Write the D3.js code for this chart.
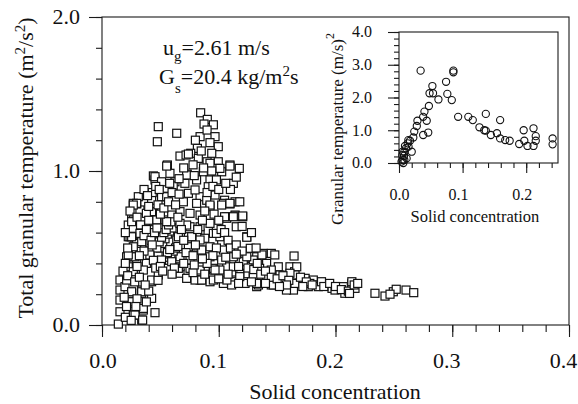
<!DOCTYPE html>
<html><head><meta charset="utf-8">
<script src="https://cdn.jsdelivr.net/npm/d3@7"></script>
<style>
body{margin:0;background:#fff}
svg{display:block}
text{font-family:"Liberation Serif","Times New Roman",serif;fill:#111}
</style>
</head><body>
<svg id="c" width="578" height="404"></svg>
<script>
// ---------- DATA ----------
const mainXTicks = [0, 0.1, 0.2, 0.3, 0.4];
const mainXLabels = ["0.0", "0.1", "0.2", "0.3", "0.4"];
const mainYTicks = [0, 1, 2];
const mainYLabels = ["0.0", "1.0", "2.0"];
const insetXTicks = [0, 0.1, 0.2];
const insetXLabels = ["0.0", "0.1", "0.2"];
const insetYTicks = [0, 1, 2, 3, 4];
const insetYLabels = ["0.0", "1.0", "2.0", "3.0", "4.0"];

// total granular temperature vs solid concentration (squares)
const mainPoints = [
[0.0845,1.378],[0.0902,1.335],[0.0874,1.305],[0.0954,1.30],[0.0482,1.288],[0.064,1.245],[0.0474,1.19],[0.084,1.223],
[0.090,1.266],[0.0968,1.223],[0.0925,1.184],[0.0996,1.158],[0.0817,1.147],[0.0668,1.097],[0.072,1.104],[0.076,1.115],
[0.094,1.115],[0.090,1.06],[0.0996,1.06],[0.1096,1.039],[0.1176,1.017],[0.056,1.039],[0.0582,0.985],[0.044,0.968],
[0.0454,0.942],[0.073,0.98],[0.0868,0.995],[0.098,1.017],[0.1025,0.995],[0.0311,0.833],[0.0268,0.79],[0.0325,0.747],
[0.0254,0.693],[0.0225,0.649],[0.0268,0.628],[0.0225,0.573],[0.0283,0.534],[0.0211,0.443],[0.0268,0.443],[0.0425,0.81],
[0.044,0.725],[0.051,0.833],[0.0554,0.888],[0.0625,0.93],[0.071,0.92],[0.081,0.942],[0.0925,0.942],[0.074,0.855],
[0.084,0.833],[0.0897,0.81],[0.0968,0.844],[0.105,0.81],[0.114,0.80],[0.1068,0.703],[0.1205,0.703],[0.115,0.638],
[0.124,0.573],[0.0925,0.768],[0.084,0.714],[0.0754,0.725],[0.0668,0.736],[0.061,0.682],[0.054,0.682],[0.0754,0.638],
[0.084,0.595],[0.0954,0.595],[0.1025,0.53],[0.0925,0.508],[0.084,0.487],[0.074,0.573],[0.064,0.552],[0.0554,0.487],
[0.0497,0.465],[0.041,0.487],[0.0668,0.443],[0.0754,0.422],[0.084,0.378],[0.0954,0.357],[0.1068,0.378],[0.118,0.422],
[0.1125,0.292],[0.104,0.281],[0.084,0.292],[0.0754,0.303],[0.0668,0.336],[0.1225,0.281],[0.0425,0.281],[0.0154,0.292],
[0.0154,0.227],[0.0154,0.162],[0.0254,0.206],[0.0254,0.141],[0.034,0.206],[0.0354,0.097],[0.0268,0.065],[0.0154,0.086],
[0.014,0.006],[0.034,0.032],[0.0454,0.08],[0.0425,0.173],[0.0197,0.249],
[0.074,1.11],[0.0825,1.082],[0.0925,1.05],[0.101,1.017],[0.1096,1.032],[0.0554,1.032],[0.0454,0.963],[0.051,0.93],
[0.061,0.903],[0.0725,0.974],[0.098,0.942],[0.0797,0.877],[0.091,0.898],[0.1125,0.92],[0.118,0.80],[0.0297,0.786],
[0.0554,0.833],[0.0697,0.80],[0.081,0.79],[0.0925,0.779],[0.104,0.79],[0.0268,0.682],[0.0425,0.736],[0.044,0.671],
[0.0597,0.714],[0.0725,0.649],[0.084,0.638],[0.098,0.638],[0.1068,0.693],[0.114,0.714],[0.024,0.573],[0.0325,0.595],
[0.0297,0.53],[0.0297,0.422],[0.038,0.40],[0.0654,0.573],[0.0768,0.573],[0.088,0.563],[0.101,0.573],[0.0754,0.498],
[0.0854,0.487],[0.0925,0.443],[0.104,0.487],[0.1125,0.443],[0.1225,0.433],[0.1325,0.443],[0.138,0.465],[0.0668,0.378],
[0.0754,0.368],[0.084,0.357],[0.0954,0.368],[0.118,0.336],[0.1296,0.325],[0.141,0.314],[0.0725,0.303],[0.0925,0.281],
[0.104,0.27],[0.1125,0.281],[0.1225,0.27],[0.1325,0.249],[0.034,0.227],
[0.046,0.44],[0.048,0.47],[0.05,0.5],[0.052,0.53],[0.054,0.56],[0.056,0.59],[0.058,0.61],[0.06,0.63],
[0.047,0.5],[0.049,0.54],[0.051,0.57],[0.053,0.6],[0.055,0.62],[0.057,0.65],[0.059,0.67],
[0.055,0.42],[0.057,0.44],[0.059,0.46],[0.061,0.48],[0.063,0.50],[0.065,0.51],[0.056,0.47],[0.058,0.49],
[0.1096,0.786],[0.1025,0.779],[0.114,0.708],[0.1205,0.708],[0.105,0.703],[0.124,0.57],[0.127,0.498],[0.137,0.455],
[0.145,0.465],[0.148,0.455],[0.1645,0.448],[0.141,0.40],[0.151,0.378],[0.161,0.378],[0.165,0.346],[0.174,0.303],
[0.181,0.292],[0.185,0.26],[0.197,0.238],[0.1996,0.227],[0.208,0.206],[0.2067,0.249],[0.2139,0.27],[0.2167,0.238],
[0.2338,0.206],[0.1767,0.249],[0.164,0.227],[0.158,0.227],[0.145,0.26],[0.134,0.26],[0.111,0.26],[0.1525,0.325],
[0.1296,0.314],[0.118,0.314],[0.107,0.292],[0.0954,0.292],[0.155,0.281],[0.1696,0.27],[0.1296,0.422],[0.121,0.411],
[0.1125,0.378],[0.101,0.357],[0.135,0.368],[0.145,0.357],
[0.1668,0.378],[0.1653,0.325],[0.1653,0.27],[0.178,0.27],[0.1853,0.249],[0.188,0.281],[0.214,0.281],[0.2424,0.188],
[0.2495,0.216],[0.252,0.232],[0.2604,0.227],[0.267,0.21],[0.2467,0.20],
[0.0254,0.216],[0.0254,0.151],[0.0283,0.065],[0.0348,0.032],[0.0354,0.108],[0.034,0.216],[0.0225,0.378],[0.0268,0.346],
[0.0354,0.357],[0.0425,0.292],[0.0482,0.325],[0.0283,0.443],[0.0225,0.455],[0.034,0.541],[0.0268,0.508],[0.0254,0.573],
[0.041,0.595],[0.041,0.455],[0.051,0.422],[0.0597,0.411],[0.0654,0.368],[0.0797,0.292],[0.074,0.508],[0.084,0.552],
[0.0925,0.66],[0.098,0.595],[0.1025,0.422],[0.0968,0.357],[0.0668,0.66],[0.0554,0.671],[0.0468,0.682],[0.038,0.725],
[0.0297,0.79],
[0.0268,0.779],[0.0254,0.671],[0.0211,0.292],[0.0854,0.292],[0.1125,0.703],[0.1096,0.79],[0.161,0.336],[0.124,0.443],
[0.1325,0.27],[0.1467,0.26],
[0.018,0.35],[0.02,0.40],[0.022,0.50],[0.02,0.60],[0.024,0.74],[0.03,0.70],[0.033,0.65],[0.036,0.48],
[0.032,0.45],[0.03,0.38],[0.022,0.32],[0.028,0.28],[0.032,0.31],[0.019,0.18],[0.021,0.12],[0.03,0.17],
[0.029,0.12],[0.038,0.15],[0.04,0.22],[0.037,0.26],[0.02,0.05],[0.025,0.03],
[0.036,0.58],[0.038,0.62],[0.04,0.68],[0.042,0.55],[0.045,0.60],[0.047,0.63],[0.043,0.52],[0.04,0.77],
[0.043,0.86],[0.046,0.9],[0.048,0.78],[0.05,0.72],[0.049,0.88],[0.036,0.88],[0.039,0.84],[0.044,0.42],
[0.046,0.37],[0.05,0.38],[0.052,0.35],[0.048,0.29],
[0.053,0.76],[0.057,0.8],[0.06,0.86],[0.063,0.78],[0.065,0.7],[0.068,0.62],[0.07,0.55],[0.072,0.47],
[0.078,0.45],[0.08,0.52],[0.082,0.62],[0.086,0.68],[0.088,0.74],[0.09,0.86],[0.095,0.9],[0.1,0.88],
[0.096,0.72],[0.1,0.68],[0.102,0.62],[0.098,0.5],[0.095,0.45],[0.09,0.4],[0.088,0.33],[0.078,0.34],
[0.07,0.4],[0.062,0.37],[0.06,0.33],[0.079,0.39],[0.086,0.43],[0.066,0.95],[0.058,0.92],[0.07,1.02],
[0.078,1.04],[0.085,1.13],[0.08,1.2],[0.087,1.02],[0.094,1.0],[0.079,0.97],[0.066,0.85],
[0.105,0.6],[0.108,0.55],[0.11,0.5],[0.115,0.52],[0.12,0.48],[0.117,0.38],[0.125,0.37],[0.13,0.36],
[0.136,0.33],[0.14,0.35],[0.145,0.31],[0.15,0.3],[0.155,0.32],[0.16,0.29],[0.158,0.26],[0.152,0.25],
[0.14,0.27],[0.128,0.28],[0.117,0.27],[0.108,0.33],[0.1,0.3],[0.106,0.44],[0.115,0.46],[0.133,0.4],
[0.128,0.6],[0.132,0.5],[0.11,0.88],[0.115,0.96],[0.106,0.92],[0.12,0.64],[0.17,0.31],[0.175,0.28],
[0.172,0.25],[0.18,0.26],[0.19,0.25],[0.195,0.27],[0.2,0.25],[0.205,0.23],[0.211,0.22],[0.216,0.26],
[0.219,0.27],[0.212,0.205]
];

// inset: granular temperature vs solid concentration (circles)
const insetPoints = [
[0.034,2.82],[0.0855,2.82],[0.0855,2.77],[0.074,2.48],[0.0525,2.35],[0.048,2.13],[0.0535,2.13],[0.076,2.11],
[0.062,1.94],[0.083,1.92],[0.047,1.74],[0.040,1.57],[0.038,1.41],[0.0436,1.29],[0.029,1.29],[0.028,1.13],
[0.046,0.93],[0.038,0.855],[0.024,0.96],[0.0225,0.78],[0.0173,0.68],[0.0137,0.60],[0.02,0.345],[0.011,0.45],
[0.0084,0.345],[0.0052,0.24],[0.0084,0.09],[0.004,0.04],[0.012,0.14],[0.015,0.50],[0.0094,0.52],[0.0058,0.35],
[0.0079,0.22],[0.0058,0.09],[0.0068,0.0],[0.0147,0.70],
[0.093,1.41],[0.109,1.41],[0.116,1.31],[0.1365,1.50],[0.1265,1.09],[0.1365,0.99],[0.134,1.0],[0.1444,0.855],
[0.154,0.91],[0.159,1.31],[0.159,0.75],[0.167,0.70],[0.174,0.68],[0.189,0.58],[0.196,1.0],[0.197,0.68],
[0.202,0.52],[0.2115,1.06],[0.2115,0.52],[0.215,0.82],[0.215,0.68],[0.2415,0.75],[0.2415,0.57]
];

// ---------- DRAW ----------
const svg = d3.select("#c");
const ink = "#1a1a1a";
const serif = "Liberation Serif, Times New Roman, serif";

// main scales
const x = d3.scaleLinear().domain([0, 0.4]).range([102, 569]);
const y = d3.scaleLinear().domain([0, 2]).range([325, 17]);

function tickAxis(g, axisFn, scale, values, size) {
  g.call(axisFn(scale).tickValues(values).tickSize(size).tickFormat(""));
  g.select(".domain").remove();
  g.selectAll("line").attr("stroke", ink).attr("stroke-width", 1.1);
}

// frame
svg.append("rect").attr("x", x(0)).attr("y", y(2)).attr("width", x(0.4) - x(0)).attr("height", y(0) - y(2))
  .attr("fill", "none").attr("stroke", ink).attr("stroke-width", 1.1);

const minorX = d3.range(0, 21).map(i => i * 0.02);
const minorY = d3.range(0, 11).map(i => i * 0.2);
tickAxis(svg.append("g").attr("transform", `translate(0,${y(0)})`), d3.axisBottom, x, minorX, 7);
tickAxis(svg.append("g").attr("transform", `translate(0,${y(0)})`), d3.axisBottom, x, mainXTicks, 12);
tickAxis(svg.append("g").attr("transform", `translate(${x(0)},0)`), d3.axisLeft, y, minorY, 6);
tickAxis(svg.append("g").attr("transform", `translate(${x(0)},0)`), d3.axisLeft, y, mainYTicks, 13);

svg.append("g").selectAll("text").data(mainXTicks).join("text")
  .attr("font-family", serif)
  .attr("x", d => d === 0 ? x(d) + 1 : x(d) - 5.5).attr("y", 368).attr("text-anchor", "middle").attr("font-size", 22)
  .text((d, i) => mainXLabels[i]);
svg.append("g").selectAll("text").data(mainYTicks).join("text")
  .attr("font-family", serif)
  .attr("x", 80).attr("y", d => y(d)).attr("dy", "0.34em").attr("text-anchor", "end").attr("font-size", 22)
  .text((d, i) => mainYLabels[i]);

svg.append("text").attr("font-family", serif).attr("x", 335).attr("y", 399).attr("text-anchor", "middle").attr("font-size", 22)
  .text("Solid concentration");

const yt = svg.append("text").attr("font-family", serif).attr("transform", "translate(33,168) rotate(-90)")
  .attr("text-anchor", "middle").attr("font-size", 22);
yt.append("tspan").text("Total granular temperature (m");
yt.append("tspan").attr("font-size", 15).attr("dy", -8).text("2");
yt.append("tspan").attr("dy", 8).text("/s");
yt.append("tspan").attr("font-size", 15).attr("dy", -8).text("2");
yt.append("tspan").attr("dy", 8).text(")");

// annotation
const a1 = svg.append("text").attr("font-family", serif).attr("x", 163).attr("y", 55).attr("font-size", 22);
a1.append("tspan").text("u");
a1.append("tspan").attr("font-size", 15).attr("dy", 6).text("g");
a1.append("tspan").attr("dy", -6).text("=2.61 m/s");
const a2 = svg.append("text").attr("font-family", serif).attr("x", 159).attr("y", 84).attr("font-size", 22);
a2.append("tspan").text("G");
a2.append("tspan").attr("font-size", 15).attr("dy", 9).text("s");
a2.append("tspan").attr("dy", -9).text("=20.4 kg/m");
a2.append("tspan").attr("font-size", 15).attr("dy", -8).text("2");
a2.append("tspan").attr("dy", 8).text("s");

// main squares
const sq = 8;
svg.append("g").selectAll("rect").data(mainPoints).join("rect")
  .attr("x", d => x(d[0]) - sq / 2).attr("y", d => y(d[1]) - sq / 2)
  .attr("width", sq).attr("height", sq)
  .attr("fill", "#fff").attr("stroke", "#111").attr("stroke-width", 1.2);

// ---------- INSET ----------
const ix = d3.scaleLinear().domain([0, 0.25]).range([399, 558]);
const iy = d3.scaleLinear().domain([0, 4]).range([163, 32]);

svg.append("rect").attr("x", ix(0)).attr("y", iy(4)).attr("width", ix(0.25) - ix(0)).attr("height", iy(0) - iy(4))
  .attr("fill", "none").attr("stroke", ink).attr("stroke-width", 1.1);

const iminorX = d3.range(0, 13).map(i => i * 0.02);
const iminorY = d3.range(0, 21).map(i => i * 0.2);
tickAxis(svg.append("g").attr("transform", `translate(0,${iy(0)})`), d3.axisBottom, ix, iminorX, 5);
tickAxis(svg.append("g").attr("transform", `translate(0,${iy(0)})`), d3.axisBottom, ix, insetXTicks, 10);
tickAxis(svg.append("g").attr("transform", `translate(${ix(0)},0)`), d3.axisLeft, iy, iminorY, 5);
tickAxis(svg.append("g").attr("transform", `translate(${ix(0)},0)`), d3.axisLeft, iy, insetYTicks, 11);

svg.append("g").selectAll("text").data(insetXTicks).join("text")
  .attr("font-family", serif)
  .attr("x", d => d === 0 ? ix(d) + 0.5 : ix(d) - 4).attr("y", 200).attr("text-anchor", "middle").attr("font-size", 16)
  .text((d, i) => insetXLabels[i]);
svg.append("g").selectAll("text").data(insetYTicks).join("text")
  .attr("font-family", serif)
  .attr("x", 372).attr("y", d => iy(d)).attr("dy", "0.34em").attr("text-anchor", "end").attr("font-size", 16)
  .text((d, i) => insetYLabels[i]);

svg.append("text").attr("font-family", serif).attr("x", 475).attr("y", 222).attr("text-anchor", "middle").attr("font-size", 16.5)
  .text("Solid concentration");
const it = svg.append("text").attr("font-family", serif).attr("transform", "translate(343,129) rotate(-90)")
  .attr("text-anchor", "middle").attr("font-size", 17);
it.append("tspan").text("Granular temperature (m/s)");
it.append("tspan").attr("font-size", 12).attr("dy", -9).text("2");

svg.append("g").selectAll("circle").data(insetPoints).join("circle")
  .attr("cx", d => ix(d[0])).attr("cy", d => iy(d[1])).attr("r", 3.6)
  .attr("fill", "none").attr("stroke", "#111").attr("stroke-width", 1.1);
</script>
</body></html>
